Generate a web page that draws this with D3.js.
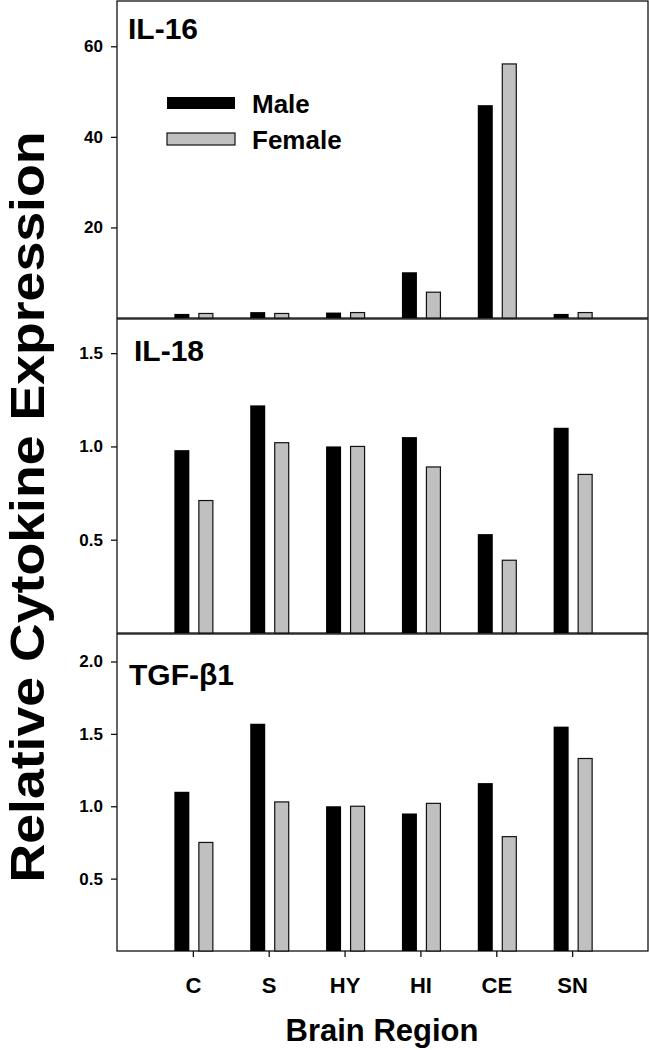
<!DOCTYPE html>
<html><head><meta charset="utf-8">
<script src="https://cdn.jsdelivr.net/npm/d3@7"></script>
<style>body{margin:0;background:#fff}svg{display:block;font-family:"Liberation Sans",Arial,sans-serif;font-weight:bold}</style>
</head><body><div id="chart"></div>
<script>
const categories = ["C","S","HY","HI","CE","SN"];
const seriesNames = ["Male","Female"];
const il16Male   = [0.9, 1.3, 1.2, 10.1, 47.0, 0.9];
const il16Female = [1.0, 1.0, 1.2, 5.7, 56.1, 1.2];
const il18Male   = [0.98, 1.22, 1.00, 1.05, 0.53, 1.10];
const il18Female = [0.71, 1.02, 1.00, 0.89, 0.39, 0.85];
const tgfMale    = [1.10, 1.57, 1.00, 0.95, 1.16, 1.55];
const tgfFemale  = [0.75, 1.03, 1.00, 1.02, 0.79, 1.33];
const il16Ticks = [20, 40, 60];
const il18Ticks = [0.5, 1.0, 1.5];
const tgfTicks  = [0.5, 1.0, 1.5, 2.0];
const tickFmtInt = d3.format("d"), tickFmt1 = d3.format(".1f");

const W = 649, H = 1050;
const svg = d3.select("#chart").append("svg").attr("width", W).attr("height", H);
const left = 117, right = 648;

const x = d3.scalePoint().domain(categories).range([left, right]).padding(1);
const xs = d3.scaleBand().domain(seriesNames).range([-18.5, 20.5]).paddingInner(0.375);
const fills = {Male: "#000", Female: "#c0c0c0"};

const panels = [
  {title: "IL-16", top: 1, bottom: 318, max: 70, ticks: il16Ticks, fmt: tickFmtInt, male: il16Male, female: il16Female, tx: 128, ty: 39},
  {title: "IL-18", top: 319, bottom: 633, max: 1.683, ticks: il18Ticks, fmt: tickFmt1, male: il18Male, female: il18Female, tx: 134, ty: 361},
  {title: "TGF-β1", top: 634, bottom: 951, max: 2.19, ticks: tgfTicks, fmt: tickFmt1, male: tgfMale, female: tgfFemale, tx: 129, ty: 685}
];

panels.forEach((p, pi) => {
  const y = d3.scaleLinear().domain([0, p.max]).range([p.bottom, p.top]);
  const g = svg.append("g");
  g.append("rect").attr("x", left).attr("y", p.top).attr("width", right - left).attr("height", p.bottom - p.top)
    .attr("fill", "none").attr("stroke", "#111").attr("stroke-width", 1.3);
  const ax = g.append("g").attr("transform", `translate(${left},0)`)
    .call(d3.axisLeft(y).tickValues(p.ticks).tickFormat(p.fmt).tickSize(6).tickPadding(8));
  ax.select(".domain").remove();
  ax.selectAll("line").attr("stroke", "#111").attr("stroke-width", 1.3);
  ax.selectAll("text").attr("font-size", 17).attr("font-weight", "bold").attr("fill", "#000")
    .attr("font-family", '"Liberation Sans",Arial,sans-serif');
  const data = [];
  categories.forEach((c, i) => {
    data.push({c, s: "Male", v: p.male[i]});
    data.push({c, s: "Female", v: p.female[i]});
  });
  g.selectAll("rect.bar").data(data).join("rect").attr("class", "bar")
    .attr("x", d => x(d.c) + xs(d.s) + (d.s === "Female" ? 0.5 : 0))
    .attr("width", d => d.s === "Female" ? xs.bandwidth() - 1 : xs.bandwidth())
    .attr("y", d => y(d.v))
    .attr("height", d => y(0) - y(d.v))
    .attr("fill", d => fills[d.s])
    .attr("stroke", d => d.s === "Female" ? "#111" : "none")
    .attr("stroke-width", 1.2);
  g.append("text").attr("x", p.tx).attr("y", p.ty).attr("font-size", 30).text(p.title);
  if (pi === panels.length - 1) {
    const xa = svg.append("g").attr("transform", `translate(0,${p.bottom})`)
      .call(d3.axisBottom(x).tickSize(6).tickPadding(20));
    xa.select(".domain").remove();
    xa.selectAll("line").attr("stroke", "#111").attr("stroke-width", 1.3);
    xa.selectAll("text").attr("font-size", 22).attr("font-weight", "bold").attr("fill", "#000")
      .attr("font-family", '"Liberation Sans",Arial,sans-serif');
  }
});

const legend = svg.append("g");
const legY = {Male: 97, Female: 133};
seriesNames.forEach(s => {
  legend.append("rect").attr("x", 167).attr("y", legY[s]).attr("width", 68).attr("height", 12)
    .attr("fill", fills[s]).attr("stroke", s === "Female" ? "#111" : "none").attr("stroke-width", 1.2);
  legend.append("text").attr("x", 252).attr("y", legY[s] + 16).attr("font-size", 26).text(s);
});

svg.append("text").attr("x", (left + right) / 2 - 0.5).attr("y", 1041).attr("text-anchor", "middle")
  .attr("font-size", 31).text("Brain Region");
svg.append("text").attr("transform", "translate(44,507) rotate(-90)").attr("text-anchor", "middle")
  .attr("font-size", 48).attr("textLength", 751).attr("lengthAdjust", "spacingAndGlyphs")
  .text("Relative Cytokine Expression");
</script></body></html>
